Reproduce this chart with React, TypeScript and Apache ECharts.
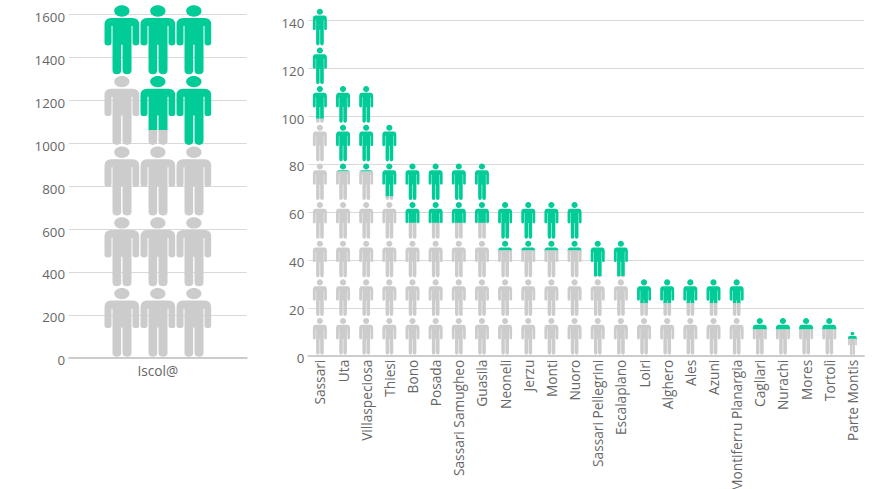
import React, { useEffect, useRef } from "react";
import * as echarts from "echarts";

const PERSON =
  "M52 0C65 0 75 8 75 17C75 26 65 34 52 34C39 34 29 26 29 17C29 8 39 0 52 0Z" +
  "M20 38H84Q104 38 104 58V112Q104 120 94 120Q84 120 84 112V62H81V194Q81 206 68 206Q54 206 54 194V118H50V194Q50 206 37 206Q24 206 24 194V62H21V112Q21 120 10.5 120Q0 120 0 112V58Q0 38 20 38Z";

const GREEN = "#01CC97";
const GRAY = "#CCCCCC";
const TEXT = "#666666";
const FONT = "Open Sans";

const leftCategories = ["Iscol@"];
const leftTotals = [1648, 1648, 1648];
const leftGray = [1319, 1062, 990];
const leftUnit = 329.6;

const categories = [
  "Sassari", "Uta", "Villaspeciosa", "Thiesi", "Bono", "Posada", "Sassari Samugheo", "Guasila",
  "Neoneli", "Jerzu", "Monti", "Nuoro", "Sassari Pellegrini", "Escalaplano", "Loiri", "Alghero",
  "Ales", "Azuni", "Montiferru Planargia", "Cagliari", "Nurachi", "Mores", "Tortolì", "Parte Montis",
];
const totals = [
  145.2, 113, 113, 96.8, 80.7, 80.7, 80.7, 80.7, 64.6, 64.6, 64.6, 64.6, 48.4, 48.4, 32.3, 32.3, 32.3, 32.3, 32.3,
  16.2, 16.2, 16.2, 16.2, 10.3,
];
const grayPart = [
  99, 77, 77, 66.5, 55.5, 55.5, 55.5, 55.5, 44, 44, 44, 44, 33.3, 33.3, 22, 22, 22, 22, 22, 11, 11, 11, 11, 7.1,
];
const rightUnit = 16.13;

const yLabel = {
  margin: 4,
  formatter: (v: number) => `{t|${v}}`,
  rich: { t: { color: TEXT, fontFamily: FONT, fontSize: 13.3, padding: [5, 0, 0, 0] } },
};
const xLabel = { color: TEXT, fontFamily: FONT, fontSize: 13.7 };
const splitLine = { show: true, lineStyle: { color: "#D9D9D9", width: 1 } };
const baseLine = { show: true, lineStyle: { color: "#CCCCCC", width: 2 } };

function figures(unit: number, figWidth: number, fill: number, colStep: number) {
  return (_params: any, api: any) => {
    const cat = api.value(0);
    const total = api.value(1);
    const gray = api.value(2);
    const col = api.value(3);
    const base = api.coord([cat, 0]);
    const cx = base[0] + (col - 1) * colStep;
    const rows = Math.max(1, Math.ceil(total / unit - 0.02));
    const children: any[] = [];
    const person = (x: number, y: number, w: number, h: number, color: string, clip?: any) => ({
      type: "path",
      shape: { pathData: PERSON, layout: "cover", x, y, width: w, height: h },
      style: { fill: color },
      ...(clip ? { clipPath: { type: "rect", shape: clip } } : {}),
    });
    for (let i = 0; i < rows; i++) {
      const scale = Math.min(1, total / unit);
      const lo = i * unit;
      const hi = lo + unit * scale;
      const yLo = api.coord([cat, lo])[1];
      const yHi = api.coord([cat, hi])[1];
      const rowPx = yLo - yHi;
      const h = rowPx * fill;
      const w = figWidth * scale;
      const x = cx - w / 2;
      const y = yHi + (rowPx - h) / 2;
      if (hi <= gray) {
        children.push(person(x, y, w, h, GRAY));
      } else if (lo >= gray) {
        children.push(person(x, y, w, h, GREEN));
      } else {
        const yCut = api.coord([cat, gray])[1];
        children.push(
          person(x, y, w, h, GREEN, { x: x - 1, y: yHi - 1, width: w + 2, height: yCut - yHi + 1.5 })
        );
        children.push(
          person(x, y, w, h, GRAY, { x: x - 1, y: yCut, width: w + 2, height: yLo - yCut + 1 })
        );
      }
    }
    return { type: "group", children };
  };
}

export default function App() {
  const ref = useRef<HTMLDivElement>(null);
  useEffect(() => {
    const chart = echarts.init(ref.current!, undefined, { renderer: "svg" });
    chart.setOption({
      animation: false,
      grid: [
        { left: 69, top: 14.7, width: 177.7, height: 343, outerBoundsMode: "none" },
        { left: 308.3, top: 20.2, width: 555.7, height: 335.5, outerBoundsMode: "none" },
      ],
      xAxis: [
        {
          type: "category",
          gridIndex: 0,
          data: leftCategories,
          axisTick: { show: false },
          axisLine: baseLine,
          axisLabel: { ...xLabel, margin: 6 },
        },
        {
          type: "category",
          gridIndex: 1,
          data: categories,
          axisTick: { show: false },
          axisLine: baseLine,
          axisLabel: { ...xLabel, rotate: 90, margin: 4, interval: 0, overflow: "none" },
        },
      ],
      yAxis: [
        {
          type: "value",
          gridIndex: 0,
          min: 0,
          max: 1600,
          interval: 200,
          axisLine: { show: false },
          axisTick: { show: false },
          axisLabel: yLabel,
          splitLine,
        },
        {
          type: "value",
          gridIndex: 1,
          min: 0,
          max: 140,
          interval: 20,
          axisLine: { show: false },
          axisTick: { show: false },
          axisLabel: yLabel,
          splitLine,
        },
      ],
      series: [
        {
          type: "custom",
          xAxisIndex: 0,
          yAxisIndex: 0,
          silent: true,
          clip: false,
          encode: { x: 0, y: 1 },
          renderItem: figures(leftUnit, 34.7, 0.976, 36),
          data: leftTotals.map((t, i) => [0, t, leftGray[i], i]),
        },
        {
          type: "custom",
          xAxisIndex: 1,
          yAxisIndex: 1,
          silent: true,
          clip: false,
          encode: { x: 0, y: 1 },
          renderItem: figures(rightUnit, 14, 0.95, 0),
          data: totals.map((t, i) => [i, t, grayPart[i], 1]),
        },
      ],
    });
    return () => chart.dispose();
  }, []);
  return (
    <div
      ref={ref}
      style={{ position: "absolute", left: 0, top: 0, width: 888, height: 489 }}
    />
  );
}
